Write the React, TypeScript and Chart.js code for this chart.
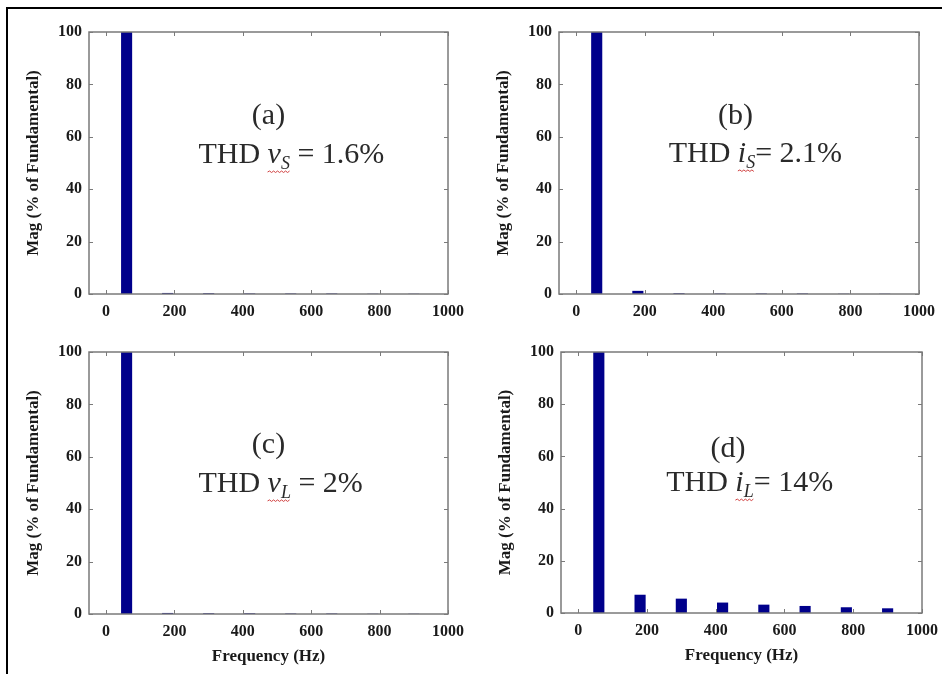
import React, { useEffect, useRef } from "react";
import { Chart, registerables } from "chart.js";

Chart.register(...registerables);

// ---- data ----
const freqHz = [60, 180, 300, 420, 540, 660, 780, 900];
const magVs = [100, 0.4, 0.3, 0.2, 0.2, 0.2, 0.1, 0.1];
const magIs = [100, 1.2, 0.3, 0.2, 0.2, 0.2, 0.1, 0.1];
const magVl = [100, 0.4, 0.3, 0.3, 0.2, 0.2, 0.1, 0.1];
const magIl = [100, 7, 5.5, 4, 3.2, 2.7, 2.2, 1.8];
const xTickValues = [0, 200, 400, 600, 800, 1000];
const yTickValues = [0, 20, 40, 60, 80, 100];
const panelTags = ["(a)", "(b)", "(c)", "(d)"];
const thdVars = ["v", "i", "v", "i"];
const thdSubs = ["S", "S", "L", "L"];
const thdRest = [" = 1.6%", "= 2.1%", " = 2%", "= 14%"];
const xAxisTitle = "Frequency (Hz)";
const yAxisTitle = "Mag (% of Fundamental)";

const SERIF = '"Liberation Serif", "Times New Roman", serif';
const BAR_COLOR = "#00008b";
const BOX_COLOR = "#7a7a7a";

type Panel = {
  values: number[];
  idx: number;
  plotLeft: number;
  plotTop: number;
  plotW: number;
  plotH: number;
  showXTitle: boolean;
  tagAt: [number, number];
  thdAt: [number, number];
};

const Y_AXIS_W = 80;
const PAD_TOP = 12;
const PAD_RIGHT = 20;

const panels: Panel[] = [
  { values: magVs, idx: 0, plotLeft: 89, plotTop: 32, plotW: 359, plotH: 262, showXTitle: false, tagAt: [475, 65], thdAt: [270, 50] },
  { values: magIs, idx: 1, plotLeft: 559, plotTop: 32, plotW: 360, plotH: 262, showXTitle: false, tagAt: [465, 65], thdAt: [270, 50.4] },
  { values: magVl, idx: 2, plotLeft: 89, plotTop: 352, plotW: 359, plotH: 262, showXTitle: true, tagAt: [475, 61.5], thdAt: [270, 46.6] },
  { values: magIl, idx: 3, plotLeft: 561, plotTop: 352, plotW: 361, plotH: 261, showXTitle: true, tagAt: [436, 59.8], thdAt: [256, 46.7] },
];

const decorPlugin = {
  id: "decor",
  afterDatasetsDraw(chart: any, _args: any, opts: any) {
    const ctx = chart.ctx as CanvasRenderingContext2D;
    const { left, right, top, bottom } = chart.chartArea;
    const xs = chart.scales.x;
    const ys = chart.scales.y;
    ctx.save();
    // axes box
    ctx.strokeStyle = BOX_COLOR;
    ctx.lineWidth = 1.5;
    ctx.strokeRect(left, top, right - left, bottom - top);
    // inward ticks on all four sides
    ctx.lineWidth = 1;
    const tl = 4;
    ctx.beginPath();
    xTickValues.forEach((v) => {
      const px = Math.round(xs.getPixelForValue(v)) + 0.5;
      ctx.moveTo(px, bottom);
      ctx.lineTo(px, bottom - tl);
      ctx.moveTo(px, top);
      ctx.lineTo(px, top + tl);
    });
    yTickValues.forEach((v) => {
      const py = Math.round(ys.getPixelForValue(v)) + 0.5;
      ctx.moveTo(left, py);
      ctx.lineTo(left + tl, py);
      ctx.moveTo(right, py);
      ctx.lineTo(right - tl, py);
    });
    ctx.stroke();

    // annotation text
    const i = opts.idx as number;
    const tagAt = opts.tagAt as [number, number];
    const thdAt = opts.thdAt as [number, number];
    ctx.fillStyle = "#2a2a2a";
    ctx.textBaseline = "alphabetic";
    ctx.font = `30px ${SERIF}`;
    ctx.textAlign = "center";
    ctx.fillText(panelTags[i], xs.getPixelForValue(tagAt[0]), ys.getPixelForValue(tagAt[1]));

    ctx.textAlign = "left";
    let x = xs.getPixelForValue(thdAt[0]);
    const y = ys.getPixelForValue(thdAt[1]);
    ctx.font = `30px ${SERIF}`;
    ctx.fillText("THD ", x, y);
    x += ctx.measureText("THD ").width;
    const varStart = x;
    ctx.font = `italic 30px ${SERIF}`;
    ctx.fillText(thdVars[i], x, y);
    x += ctx.measureText(thdVars[i]).width;
    ctx.font = `italic 18px ${SERIF}`;
    ctx.fillText(thdSubs[i], x, y + 6);
    x += ctx.measureText(thdSubs[i]).width;
    const varEnd = x;
    ctx.font = `30px ${SERIF}`;
    ctx.fillText(thdRest[i], x, y);

    // spell-check style squiggle under the variable
    ctx.strokeStyle = "#d04040";
    ctx.lineWidth = 1;
    ctx.beginPath();
    const sy = y + 9;
    let up = true;
    ctx.moveTo(varStart, sy);
    for (let sx = varStart + 2; sx <= varEnd + 0.5; sx += 2) {
      ctx.lineTo(sx, up ? sy - 1 : sy + 0.5);
      up = !up;
    }
    ctx.stroke();
    ctx.restore();
  },
};

function PanelChart({ p }: { p: Panel }) {
  const ref = useRef<HTMLCanvasElement | null>(null);
  const xAxisH = p.showXTitle ? 55 : 40;
  const cw = Y_AXIS_W + p.plotW + PAD_RIGHT;
  const ch = PAD_TOP + p.plotH + xAxisH;
  const cl = p.plotLeft - Y_AXIS_W;
  const ct = p.plotTop - PAD_TOP;

  useEffect(() => {
    if (!ref.current) return;
    const chart = new Chart(ref.current, {
      type: "bar",
      data: {
        datasets: [
          {
            data: freqHz.map((f, k) => ({ x: f, y: p.values[k] })),
            backgroundColor: BAR_COLOR,
            borderWidth: 0,
            barPercentage: 0.9,
            categoryPercentage: 0.3,
          },
        ],
      },
      options: {
        responsive: false,
        animation: false,
        events: [],
        layout: { autoPadding: false, padding: { top: PAD_TOP, right: PAD_RIGHT, left: 0, bottom: 0 } },
        plugins: {
          legend: { display: false },
          tooltip: { enabled: false },
          decor: { idx: p.idx, tagAt: p.tagAt, thdAt: p.thdAt },
        } as any,
        scales: {
          x: {
            type: "linear",
            min: -50,
            max: 1000,
            offset: false,
            grid: { display: false, drawTicks: false },
            border: { display: false },
            afterBuildTicks: (s: any) => {
              s.ticks = xTickValues.map((v) => ({ value: v }));
            },
            afterFit: (s: any) => {
              s.height = xAxisH;
              s.paddingLeft = 0;
              s.paddingRight = 0;
            },
            ticks: {
              autoSkip: false,
              maxRotation: 0,
              padding: 8,
              color: "#1a1a1a",
              font: { family: SERIF, size: 16, weight: "bold" },
              callback: (v: any) => String(v),
            },
            title: {
              display: p.showXTitle,
              text: xAxisTitle,
              color: "#1a1a1a",
              font: { family: SERIF, size: 17, weight: "bold" },
              padding: { top: 0, bottom: 2 },
            },
          },
          y: {
            min: 0,
            max: 100,
            grid: { display: false, drawTicks: false },
            border: { display: false },
            afterBuildTicks: (s: any) => {
              s.ticks = yTickValues.map((v) => ({ value: v }));
            },
            afterFit: (s: any) => {
              s.width = Y_AXIS_W;
              s.paddingTop = 0;
              s.paddingBottom = 0;
            },
            ticks: {
              padding: 7,
              color: "#1a1a1a",
              font: { family: SERIF, size: 16, weight: "bold" },
              callback: (v: any) => String(v),
            },
            title: {
              display: true,
              text: yAxisTitle,
              color: "#1a1a1a",
              font: { family: SERIF, size: 17, weight: "bold" },
              padding: { top: 14, bottom: 0 },
            },
          },
        },
      },
      plugins: [decorPlugin],
    });
    return () => chart.destroy();
  }, []);

  return (
    <canvas
      ref={ref}
      width={cw}
      height={ch}
      style={{ position: "absolute", left: cl, top: ct, width: cw, height: ch }}
    />
  );
}

export default function App() {
  return (
    <div
      style={{
        position: "absolute",
        left: 0,
        top: 0,
        width: 942,
        height: 674,
        background: "#fff",
        overflow: "hidden",
      }}
    >
      <div
        style={{
          position: "absolute",
          left: 6,
          top: 7,
          width: 936,
          height: 667,
          borderTop: "2px solid #000",
          borderLeft: "2px solid #000",
          boxSizing: "border-box",
        }}
      />
      {panels.map((p) => (
        <PanelChart key={p.idx} p={p} />
      ))}
    </div>
  );
}
